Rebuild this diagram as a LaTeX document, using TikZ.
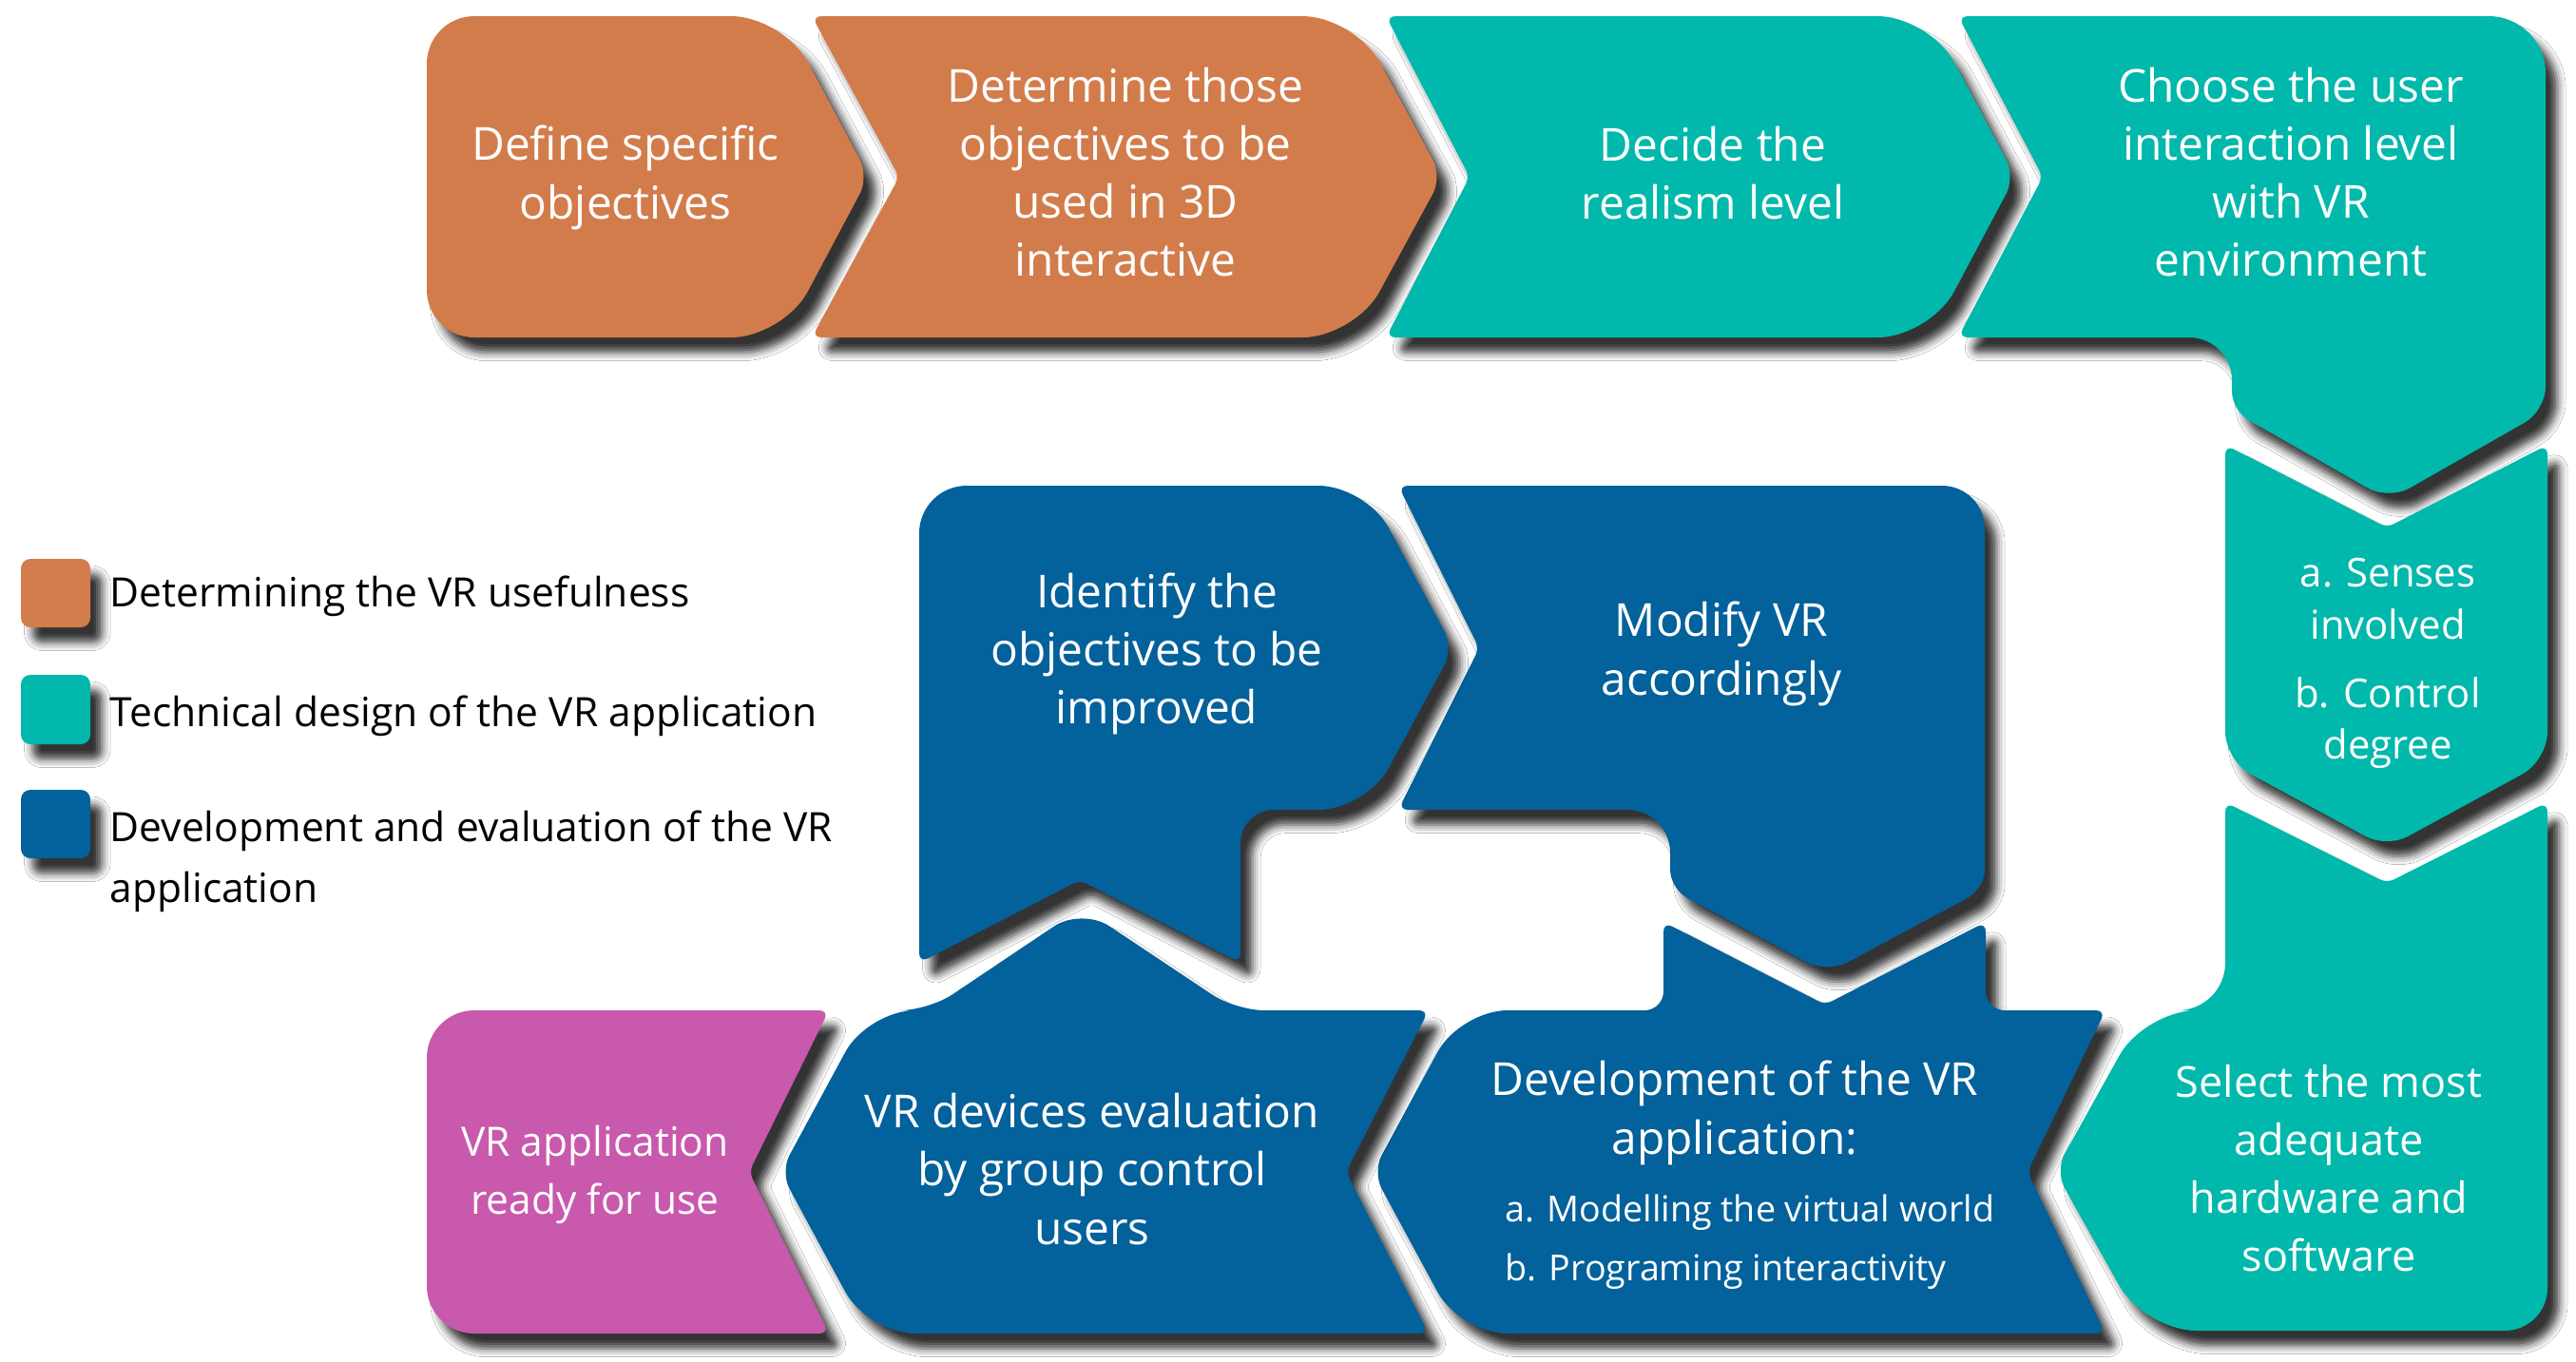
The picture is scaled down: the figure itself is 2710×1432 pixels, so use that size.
\documentclass[tikz,border=0pt]{standalone}
\usepackage{fontspec}
\setmainfont{Open Sans}
\usetikzlibrary{shadows.blur}
\definecolor{cOr}{RGB}{211,124,75}
\definecolor{cTe}{RGB}{0,184,171}
\definecolor{cBl}{RGB}{3,97,155}
\definecolor{cPk}{RGB}{200,89,172}
\tikzset{
 shp/.style={blur shadow={shadow xshift=3.5pt,shadow yshift=-4.5pt,shadow blur radius=2.5pt,shadow opacity=80}},
 boxtext/.style={text=white, align=center, inner sep=0pt, font=\fontsize{13.6}{17.4}\selectfont},
 legtext/.style={text=black, align=left, anchor=west, inner sep=0pt, font=\fontsize{12.1}{18.2}\selectfont},
}
\begin{document}
\begin{tikzpicture}[x=0.01cm,y=-0.01cm]
\useasboundingbox (0,0) rectangle (2710,1432);
\fill[white] (0,0) rectangle (2710,1432);

% legend
\path[shp,fill=cOr,rounded corners=0.1cm] (22,588) rectangle (95,660);
\path[shp,fill=cTe,rounded corners=0.1cm] (22,710) rectangle (95,783);
\path[shp,fill=cBl,rounded corners=0.1cm] (22,831) rectangle (95,903);
\node[legtext] (leg1) at (115,627) {Determining the VR usefulness};
\node[legtext] (leg2) at (115,753) {Technical design of the VR application};
\node[legtext] (leg3) at (115,906) {Development and evaluation of the VR\\application};

% box 1
\path[shp,fill=cOr] (630,17) [rounded corners=0.55cm] -- (824,17) [rounded corners=0.2cm] -- (914,186) [rounded corners=0.55cm] -- (824,355) [rounded corners=0.5cm] -- (449,355) [rounded corners=0.5cm] -- (449,17) [rounded corners=0.1cm] -- cycle;
% box 2
\path[shp,fill=cOr] (1100,17) [rounded corners=0.55cm] -- (1425,17) [rounded corners=0.2cm] -- (1517,186) [rounded corners=0.55cm] -- (1425,355) [rounded corners=0.1cm] -- (854,355) [rounded corners=0.08cm] -- (946,186) [rounded corners=0.1cm] -- (854,17) [rounded corners=0.1cm] -- cycle;
% box 3
\path[shp,fill=cTe] (1700,17) [rounded corners=0.55cm] -- (2030,17) [rounded corners=0.2cm] -- (2120,186) [rounded corners=0.55cm] -- (2030,355) [rounded corners=0.1cm] -- (1458,355) [rounded corners=0.08cm] -- (1546,186) [rounded corners=0.1cm] -- (1458,17) [rounded corners=0.1cm] -- cycle;
% box 4
\path[shp,fill=cTe] (2300,17) [rounded corners=0.6cm] -- (2678,17) [rounded corners=0.25cm] -- (2678,432) [rounded corners=0.25cm] -- (2513,526) [rounded corners=0.2cm] -- (2348,432) [rounded corners=0.45cm] -- (2348,355) [rounded corners=0.1cm] -- (2060,355) [rounded corners=0.08cm] -- (2149,186) [rounded corners=0.1cm] -- (2060,17) [rounded corners=0.1cm] -- cycle;
% box 5
\path[shp,fill=cTe] (2680,600) [rounded corners=0.3cm] -- (2680,800) [rounded corners=0.25cm] -- (2511,892) [rounded corners=0.3cm] -- (2341,800) [rounded corners=0.1cm] -- (2341,468) [rounded corners=0.08cm] -- (2511,555) [rounded corners=0.1cm] -- (2680,468) [rounded corners=0.1cm] -- cycle;
% box 6
\path[shp,fill=cTe] (2680,1100) [rounded corners=0.45cm] -- (2680,1400) [rounded corners=0.55cm] -- (2256,1400) [rounded corners=0.2cm] -- (2162,1232) [rounded corners=0.55cm] -- (2256,1063) [rounded corners=0.5cm] -- (2341,1063) [rounded corners=0.1cm] -- (2341,844) [rounded corners=0.08cm] -- (2511,929) [rounded corners=0.1cm] -- (2680,844) [rounded corners=0.1cm] -- cycle;
% box 7
\path[shp,fill=cBl] (1700,1403) [rounded corners=0.5cm] -- (1536,1403) [rounded corners=0.2cm] -- (1444,1233) [rounded corners=0.5cm] -- (1536,1063) [rounded corners=0.2cm] -- (1750,1063) [rounded corners=0.1cm] -- (1750,970) [rounded corners=0.08cm] -- (1920,1057) [rounded corners=0.1cm] -- (2089,970) [rounded corners=0.2cm] -- (2089,1063) [rounded corners=0.1cm] -- (2215,1063) [rounded corners=0.08cm] -- (2133,1233) [rounded corners=0.1cm] -- (2215,1403) [rounded corners=0.1cm] -- cycle;
% box 8
\path[shp,fill=cBl] (1200,1403) [rounded corners=0.5cm] -- (913,1403) [rounded corners=0.2cm] -- (821,1233) [rounded corners=0.5cm] -- (913,1063) [rounded corners=0.3cm] -- (977,1063) [rounded corners=0.35cm] -- (1138,955) [rounded corners=0.3cm] -- (1300,1063) [rounded corners=0.1cm] -- (1503,1063) [rounded corners=0.08cm] -- (1416,1233) [rounded corners=0.1cm] -- (1503,1403) [rounded corners=0.1cm] -- cycle;
% box 9
\path[shp,fill=cBl] (1800,511) [rounded corners=0.45cm] -- (2088,511) [rounded corners=0.2cm] -- (2088,935) [rounded corners=0.25cm] -- (1922,1024) [rounded corners=0.2cm] -- (1757,935) [rounded corners=0.45cm] -- (1757,852) [rounded corners=0.1cm] -- (1471,852) [rounded corners=0.08cm] -- (1556,682) [rounded corners=0.1cm] -- (1471,511) [rounded corners=0.1cm] -- cycle;
% box 10
\path[shp,fill=cBl] (1200,511) [rounded corners=0.5cm] -- (1437,511) [rounded corners=0.2cm] -- (1529,682) [rounded corners=0.5cm] -- (1437,852) [rounded corners=0.35cm] -- (1305,852) [rounded corners=0.1cm] -- (1305,1013) [rounded corners=0.08cm] -- (1136,926) [rounded corners=0.1cm] -- (967,1013) [rounded corners=0.5cm] -- (967,511) [rounded corners=0.1cm] -- cycle;
% box 11
\path[shp,fill=cPk] (650,1063) [rounded corners=0.1cm] -- (872,1063) [rounded corners=0.08cm] -- (788,1233) [rounded corners=0.1cm] -- (872,1403) [rounded corners=0.5cm] -- (449,1403) [rounded corners=0.5cm] -- (449,1063) [rounded corners=0.1cm] -- cycle;

% texts
\node[boxtext] (t1) at (658,187) {Define specific\\objectives};
\node[boxtext] (t2) at (1184,181) {Determine those\\objectives to be\\used in 3D\\interactive};
\node[boxtext] (t3) at (1802,182) {Decide the\\realism level};
\node[boxtext] (t4) at (2410,181) {Choose the user\\interaction level\\with VR\\environment};
\node[boxtext,font=\fontsize{11.9}{15.4}\selectfont] (t5a) at (2512,630) {a. Senses\\involved};
\node[boxtext,font=\fontsize{11.9}{15.4}\selectfont] (t5b) at (2512,761) {b. Control\\degree};
\node[boxtext,font=\fontsize{12.8}{17.4}\selectfont] (t6) at (2450,1229) {Select the most\\adequate\\hardware and\\software};
\node[boxtext] (t7) at (1825,1171) {Development of the VR\\application:};
\node[boxtext,anchor=west,font=\fontsize{10.7}{17.4}\selectfont] (t7a) at (1583,1276) {a. Modelling the virtual world};
\node[boxtext,anchor=west,font=\fontsize{10.7}{17.4}\selectfont] (t7b) at (1583,1338) {b. Programing interactivity};
\node[boxtext] (t8) at (1149,1230) {VR devices evaluation\\by group control\\users};
\node[boxtext] (t9) at (1811,688) {Modify VR\\accordingly};
\node[boxtext] (t10) at (1217,688) {Identify the\\objectives to be\\improved};
\node[boxtext,font=\fontsize{12.1}{17.4}\selectfont] (t11) at (626,1236) {VR application\\ready for use};
\end{tikzpicture}
\end{document}
